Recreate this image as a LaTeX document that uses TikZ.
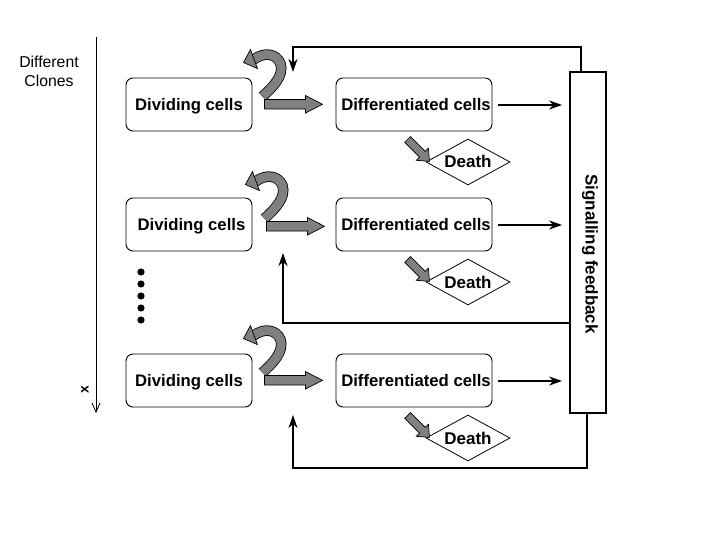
\documentclass[tikz,border=0pt]{standalone}
\usepackage{fontspec}
\setmainfont{Liberation Sans}
\usetikzlibrary{shapes.geometric,arrows.meta,calc}
\definecolor{arrowgray}{RGB}{128,128,128}
\begin{document}
\begin{tikzpicture}[x=1pt,y=-1pt,
  box/.style={draw, line width=0.9pt, rounded corners=7pt, minimum height=53pt, inner sep=0pt, text height=12pt, text depth=0pt, font=\bfseries\fontsize{16.7}{19}\selectfont},
  divbox/.style={box, minimum width=126pt},
  difbox/.style={box, minimum width=156pt},
  deathbox/.style={draw, line width=0.8pt, diamond, aspect=1.83, minimum width=84pt, minimum height=46pt, inner sep=0pt, text height=12pt, text depth=0pt, font=\bfseries\fontsize{17}{19}\selectfont},
  sigbox/.style={draw, line width=1.8pt, minimum width=36pt, minimum height=341pt, inner sep=0pt},
  conn/.style={line width=1.8pt, -{Stealth[length=13pt,width=9pt,inset=4pt]}},
  fb/.style={conn},
  garrow/.style={draw=black, line width=0.7pt, fill=arrowgray},
  growpic/.pic={
    \draw[line width=10.5pt, black] (-2,-3) .. controls (8,-12) and (20,-24) .. (16,-36) .. controls (12,-46) and (0,-48) .. (-11,-40);
    \draw[line width=8.9pt, arrowgray] (-2,-3) .. controls (8,-12) and (20,-24) .. (16,-36) .. controls (12,-46) and (0,-48) .. (-11,-40);
    \draw[garrow] (-14,-50) -- (-21,-37) -- (-7,-31) -- cycle;
    \draw[garrow] (0,0) -- (41,0) -- (41,-4) -- (58,4.75) -- (41,13.5) -- (41,9.5) -- (0,9.5) -- cycle;
  },
  deathpic/.pic={
    \draw[garrow] (0,-4) -- (21,-4) -- (21,-8.5) -- (31,0) -- (21,8.5) -- (21,4) -- (0,4) -- cycle;
  }
]
\useasboundingbox (0,0) rectangle (720,540);

% axis
\coordinate (ax0) at (96,37);
\coordinate (ax1) at (96,413);
\draw[line width=0.8pt, -{Straight Barb[length=9pt,width=8pt]}] (ax0) -- (ax1);
\node[font=\fontsize{15.8}{19}\selectfont, align=center] (clones) at (49,71) {Different\\Clones};
\node[font=\bfseries\fontsize{14}{14}\selectfont, rotate=90] (xlab) at (85,390) {x};

% boxes
\node[divbox] (div1) at (189,104.5) {Dividing cells};
\node[divbox] (div2) at (189,224.5) {\hspace*{5pt}Dividing cells};
\node[divbox] (div3) at (189,380.5) {Dividing cells};
\node[difbox] (dif1) at (414,104.5) {\hspace*{4pt}Differentiated cells};
\node[difbox] (dif2) at (414,224.5) {\hspace*{4pt}Differentiated cells};
\node[difbox] (dif3) at (414,380.5) {\hspace*{4pt}Differentiated cells};
\node[deathbox] (death1) at (468,162) {Death};
\node[deathbox] (death2) at (468,282) {Death};
\node[deathbox] (death3) at (468,438) {Death};

% signalling box
\node[sigbox] (sig) at (588,242.5) {};
\node[font=\bfseries\fontsize{17}{19}\selectfont, rotate=-90] (siglab) at (590,254) {Signalling feedback};

% dots
\foreach \k in {0,...,4} \fill (141,272+12*\k) circle (3.6);

% grey arrows
\pic at ($(div1.north east)+(12,22)$) {growpic};
\pic at ($(div2.north east)+(14,24)$) {growpic};
\pic at ($(div3.north east)+(12,22)$) {growpic};
\pic[rotate=-45] at ($(dif1.south west)+(72,8)$) {deathpic};
\pic[rotate=-45] at ($(dif2.south west)+(72,8)$) {deathpic};
\pic[rotate=-45] at ($(dif3.south west)+(72,8)$) {deathpic};

% to signalling
\draw[conn, shorten <=6pt, shorten >=7pt] ([yshift=-0.5pt]dif1.east) -- ([yshift=-0.5pt]dif1.east -| sig.west);
\draw[conn, shorten <=6pt, shorten >=7pt] ([yshift=-0.5pt]dif2.east) -- ([yshift=-0.5pt]dif2.east -| sig.west);
\draw[conn, shorten <=6pt, shorten >=7pt] ([yshift=-0.5pt]dif3.east) -- ([yshift=-0.5pt]dif3.east -| sig.west);

% feedback
\coordinate (t1) at (293,72);
\draw[fb] ([xshift=-7pt]sig.north) |- ($(t1)+(0,-25)$) -- (t1);
\coordinate (s2) at (570,323);
\coordinate (t2) at (283,253);
\draw[fb] (s2) -| (t2);
\coordinate (t3) at (293,415);
\draw[fb] ([xshift=-1pt]sig.south) -- ++(0,54) -| (t3);
\end{tikzpicture}
\end{document}
